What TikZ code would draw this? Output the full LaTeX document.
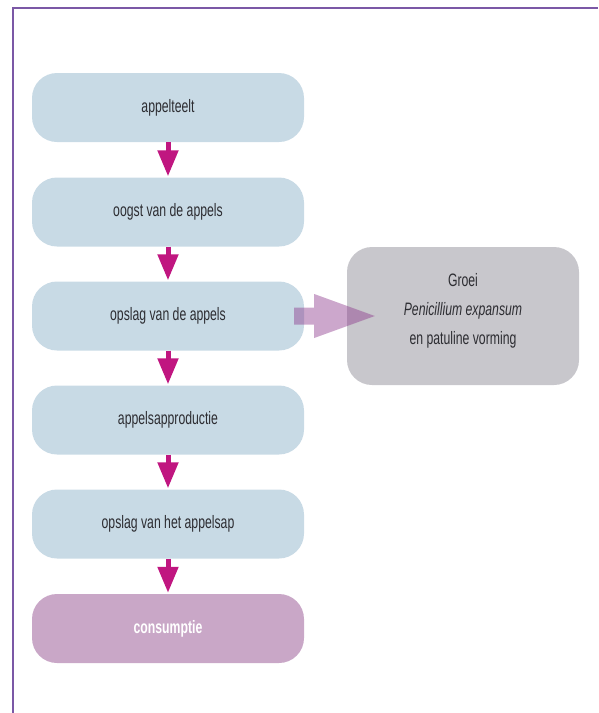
\documentclass[tikz,border=0pt]{standalone}
\usepackage{fontspec}
\setmainfont[FakeStretch=0.68]{Liberation Sans}
\usetikzlibrary{arrows.meta}
\definecolor{framepurple}{RGB}{123,88,166}
\definecolor{stepblue}{RGB}{200,218,229}
\definecolor{sidegray}{RGB}{200,199,204}
\definecolor{endmauve}{RGB}{201,167,199}
\definecolor{arrowmagenta}{RGB}{192,22,128}
\definecolor{bigarrow}{RGB}{140,55,138}
\definecolor{labeltext}{RGB}{45,45,50}
\tikzset{
  stepbox/.style={rounded corners=25pt, fill=stepblue, minimum width=272pt,
    minimum height=69pt, inner sep=0pt, text=labeltext,
    font=\fontsize{18}{20}\selectfont},
  endbox/.style={stepbox, fill=endmauve, text=white,
    font=\fontsize{18}{20}\selectfont\bfseries},
  sidebox/.style={rounded corners=25pt, fill=sidegray, minimum width=232pt,
    minimum height=138pt, inner sep=0pt},
  flow/.style={draw=arrowmagenta, line width=5pt,
    -{Triangle[width=20pt,length=26pt]}, shorten >=1pt},
}
\begin{document}
\begin{tikzpicture}[x=1pt,y=-1pt]
  \useasboundingbox (0,0) rectangle (598,713);
  % frame
  \draw[framepurple, line width=1.6pt] (13,713) -- (13,8) -- (598,8);

  % process steps
  \node[stepbox] (s1) at (168,107.5) {appelteelt};
  \node[stepbox] (s2) at (168,212) {oogst van de appels};
  \node[stepbox] (s3) at (168,316) {opslag van de appels};
  \node[stepbox] (s4) at (168,420) {appelsapproductie};
  \node[stepbox] (s5) at (168,524) {opslag van het appelsap};
  \node[endbox]  (s6) at (168,628.5) {consumptie};

  \draw[flow] (s1.south) -- (s2.north);
  \draw[flow] (s2.south) -- (s3.north);
  \draw[flow] (s3.south) -- (s4.north);
  \draw[flow] (s4.south) -- (s5.north);
  \draw[flow] (s5.south) -- (s6.north);

  % side effect box
  \node[sidebox] (g) at (463,316) {};
  \node[align=center, text=labeltext, font=\fontsize{18}{29}\selectfont] (gt)
    at (463,311) {Groei\\\textit{Penicillium expansum}\\en patuline vorming};

  % translucent block arrow towards the side box
  \coordinate (ba) at ([xshift=-10pt]s3.east);
  \coordinate (bt) at ([xshift=28pt]g.west);
  \fill[bigarrow, opacity=0.44]
    ([yshift=-8.5pt]ba) -- ([xshift=20pt,yshift=-8.5pt]ba)
    -- ([xshift=20pt,yshift=-22pt]ba) -- (bt)
    -- ([xshift=20pt,yshift=22pt]ba) -- ([xshift=20pt,yshift=8.5pt]ba)
    -- ([yshift=8.5pt]ba) -- cycle;
\end{tikzpicture}
\end{document}
